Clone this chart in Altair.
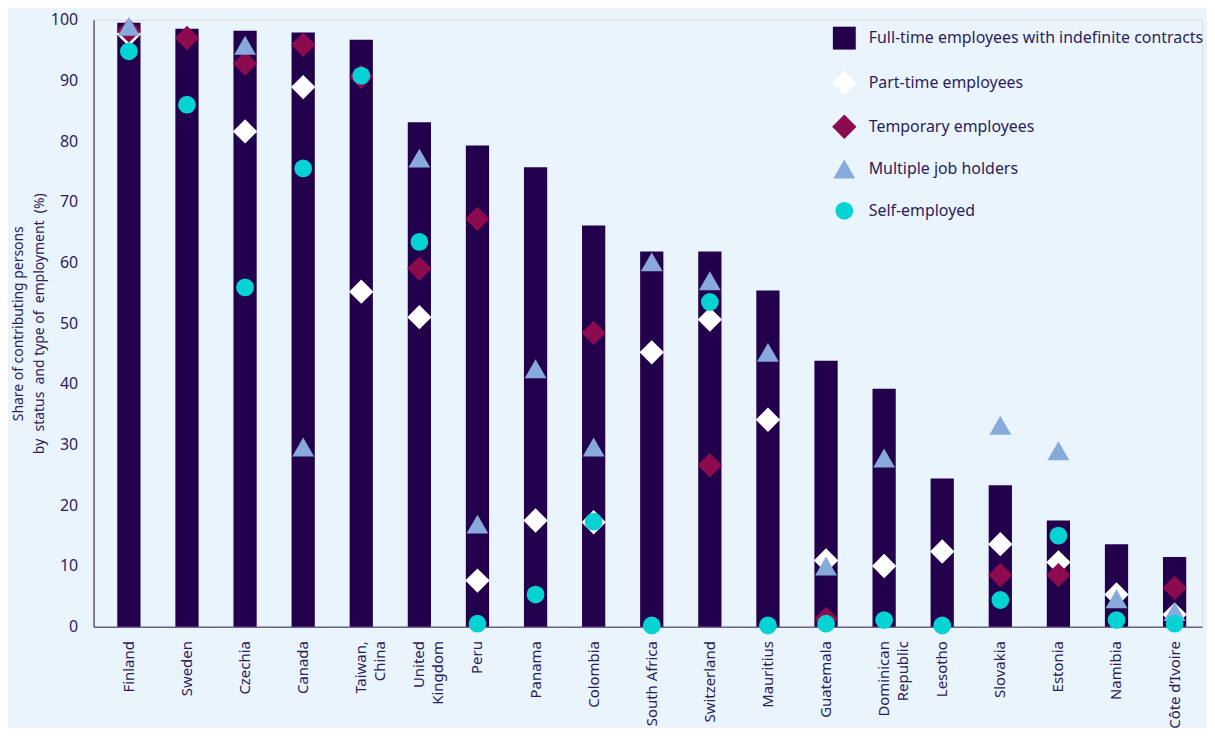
import altair as alt
import pandas as pd

categories = ["Finland", "Sweden", "Czechia", "Canada", "Taiwan,\nChina", "United\nKingdom",
              "Peru", "Panama", "Colombia", "South Africa", "Switzerland", "Mauritius",
              "Guatemala", "Dominican\nRepublic", "Lesotho", "Slovakia", "Estonia",
              "Namibia", "Côte d’Ivoire"]

full_time = [99.5, 98.5, 98.2, 97.9, 96.7, 83.1, 79.3, 75.7, 66.1, 61.8, 61.8, 55.4,
             43.8, 39.2, 24.4, 23.3, 17.5, 13.6, 11.5]
part_time = [97.6, None, 81.6, 88.9, 55.2, 51.0, 7.6, 17.5, 17.2, 45.2, 50.6, 34.1,
             10.9, 10.0, 12.4, 13.6, 10.6, 5.3, 2.0]
temporary = [98.2, 97.0, 92.8, 95.9, 90.6, 59.0, 67.2, None, 48.4, None, 26.6, None,
             1.3, None, None, 8.5, 8.5, None, 6.4]
multiple = [98.9, None, 95.8, 29.6, None, 77.2, 16.9, 42.5, 29.6, 60.1, 57.0, 45.2,
            10.0, 27.8, None, 33.2, 29.0, 4.6, 2.5]
self_emp = [94.8, 86.0, 55.9, 75.5, 90.8, 63.4, 0.5, 5.3, 17.3, 0.2, 53.5, 0.2,
            0.5, 1.1, 0.2, 4.4, 15.0, 1.1, 0.5]

series = ["Full-time employees with indefinite contracts", "Part-time employees",
          "Temporary employees", "Multiple job holders", "Self-employed"]
colors = ["#23004c", "#ffffff", "#8c0b4f", "#87a9dc", "#05d3d3"]
shapes = ["square", "diamond", "diamond", "triangle-up", "circle"]
sizes = [529, 600, 600, 480, 320]

y_title = ["Share of contributing persons",
           "by\u00a0 status\u00a0 and type of\u00a0 employment\u00a0 (%)"]

TEXT = "#2b1c5a"
BG = "#eaf4fd"

bar_df = pd.DataFrame({"country": categories, "value": full_time})

rows = []
for name, vals in zip(series[1:], [part_time, temporary, multiple, self_emp]):
    for c, v in zip(categories, vals):
        if v is not None:
            rows.append({"country": c, "series": name, "value": v})
pt_df = pd.DataFrame(rows)

x_enc = alt.X(
    "country:N", sort=categories, title=None,
    scale=alt.Scale(paddingInner=0.6, paddingOuter=0.34, align=0.6),
    axis=alt.Axis(labelAngle=-90, labelAlign="right", labelBaseline="middle",
                  labelExpr="split(datum.label, '\\n')", ticks=False,
                  labelPadding=14, labelFontSize=15, labelLineHeight=19,
                  labelColor=TEXT, domainColor="#6a6488", domainWidth=1.5,
                  labelLimit=300),
)
y_enc = alt.Y(
    "value:Q",
    scale=alt.Scale(domain=[0, 100], nice=False),
    title=y_title,
    axis=alt.Axis(values=list(range(0, 101, 10)), ticks=False, grid=False,
                  labelPadding=16, labelFontSize=16, labelColor=TEXT,
                  domainColor="#3d3563", domainWidth=1.2,
                  titleFontSize=14, titleFontWeight="normal", titleColor=TEXT,
                  titlePadding=4, titleLineHeight=21),
)

bars = alt.Chart(bar_df).mark_bar(color=colors[0]).encode(x=x_enc, y=y_enc)

leg = alt.Legend(title=None, orient="none", legendX=742, legendY=7,
                 labelFontSize=16, labelColor=TEXT, labelLimit=600,
                 rowPadding=19, gridAlign="all", labelOffset=12,
                 symbolOpacity=1, symbolStrokeWidth=0)

points = alt.Chart(pt_df).mark_point(filled=True, opacity=1, strokeWidth=0).encode(
    x=alt.X("country:N", sort=categories),
    y=alt.Y("value:Q"),
    color=alt.Color("series:N", scale=alt.Scale(domain=series, range=colors), legend=leg),
    shape=alt.Shape("series:N", scale=alt.Scale(domain=series, range=shapes), legend=leg),
    size=alt.Size("series:N", scale=alt.Scale(type="ordinal", domain=series, range=sizes),
                  legend=leg),
)

chart = alt.layer(bars, points).properties(
    width=1114, height=610,
    background=BG,
    padding={"left": 86, "top": 10, "right": 5, "bottom": 100},
    autosize=alt.AutoSizeParams(type="none"),
).configure_view(stroke=None).configure(font="Noto Sans")

chart.save("out.html", embed_options={"renderer": "svg", "actions": False})
